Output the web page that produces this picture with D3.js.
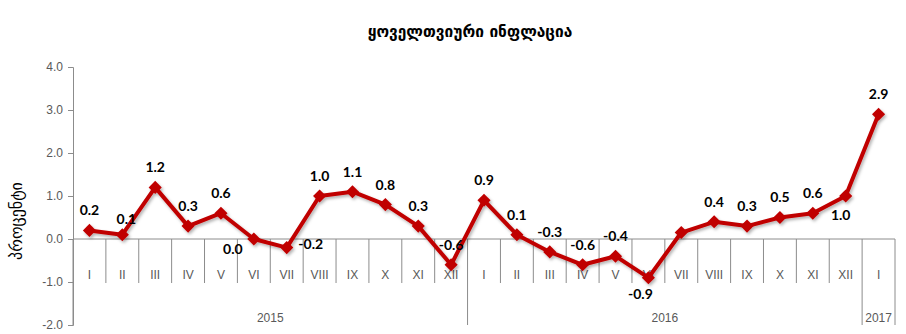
<!DOCTYPE html>
<html>
<head>
<meta charset="utf-8">
<script src="https://cdn.jsdelivr.net/npm/d3@7"></script>
<style>
  body { margin: 0; background: #fff; }
  svg { display: block; }
</style>
</head>
<body>
<div id="chart"></div>
<script>
// monthly inflation, %
var months = ["I","II","III","IV","V","VI","VII","VIII","IX","X","XI","XII",
              "I","II","III","IV","V","VI","VII","VIII","IX","X","XI","XII",
              "I"];
var values = [0.2, 0.1, 1.2, 0.3, 0.6, 0.0, -0.2, 1.0, 1.1, 0.8, 0.3, -0.6,
              0.9, 0.1, -0.3, -0.6, -0.4, -0.9, 0.15, 0.4, 0.3, 0.5, 0.6, 1.0,
              2.9];
var labels = ["0.2","0.1","1.2","0.3","0.6","0.0","-0.2","1.0","1.1","0.8","0.3","-0.6",
              "0.9","0.1","-0.3","-0.6","-0.4","-0.9","","0.4","0.3","0.5","0.6","1.0",
              "2.9"];
var years = ["2015", "2016", "2017"];
var yearCounts = [12, 12, 1];
var yTicks = [-2, -1, 0, 1, 2, 3, 4];

var title = "ყოველთვიური ინფლაცია";
var yTitle = "პროცენტი";

var width = 906;
var height = 334;
var plotLeft = 73, plotRight = 895, plotTop = 67, plotBottom = 325;
var axisGray = "#8c8c8c";
var red = "#c00000";

// where the value label goes, relative to the marker (default: above)
var labelPlace = { 1: [4, -16], 5: [-21, 10], 6: [24, -4], 17: [-8, 16], 23: [-5, 19] };

var svg = d3.select("#chart")
    .append("svg")
    .attr("width", width)
    .attr("height", height);

var x = d3.scaleBand()
    .domain(d3.range(months.length))
    .range([plotLeft, plotRight]);

var y = d3.scaleLinear()
    .domain([-2, 4])
    .range([plotBottom, plotTop]);

var y0 = y(0);

svg.append("text")
    .attr("x", 470)
    .attr("y", 37)
    .attr("text-anchor", "middle")
    .style("font-family", "DejaVu Sans")
    .style("font-size", "15.5px")
    .style("font-weight", "bold")
    .text(title);

svg.append("text")
    .attr("transform", "translate(16," + 221 + ") rotate(-90)")
    .attr("text-anchor", "middle")
    .attr("dy", "0.35em")
    .style("font-family", "DejaVu Sans")
    .style("font-size", "16px")
    .text(yTitle);

// y axis
var yAxis = svg.append("g")
    .attr("transform", "translate(" + plotLeft + ",0)")
    .call(d3.axisLeft(y).tickValues(yTicks).tickSize(5).tickPadding(5)
        .tickFormat(function(d) { return d.toFixed(1); }));
yAxis.select(".domain").attr("stroke", axisGray);
yAxis.selectAll(".tick line").attr("stroke", axisGray);
yAxis.selectAll(".tick text")
    .attr("fill", "#595959")
    .style("font-family", "Liberation Sans")
    .style("font-size", "12px");

// category axis at zero
svg.append("line")
    .attr("x1", plotLeft).attr("x2", plotRight)
    .attr("y1", y0).attr("y2", y0)
    .attr("stroke", axisGray);

var bounds = [];
var acc = 0;
yearCounts.forEach(function(c) { acc += c; bounds.push(acc); });

d3.range(1, months.length + 1).forEach(function(i) {
    var xi = i < months.length ? x(i) : plotRight;
    var isYear = bounds.indexOf(i) >= 0;
    svg.append("line")
        .attr("x1", xi).attr("x2", xi)
        .attr("y1", y0).attr("y2", isYear ? plotBottom : y0 + 44)
        .attr("stroke", axisGray);
});
svg.append("line")
    .attr("x1", plotLeft).attr("x2", plotLeft)
    .attr("y1", y0).attr("y2", plotBottom)
    .attr("stroke", axisGray);

svg.selectAll(".month")
    .data(months)
    .enter()
    .append("text")
    .attr("class", "month")
    .attr("x", function(d, i) { return x(i) + x.bandwidth() / 2; })
    .attr("y", y0 + 40)
    .attr("text-anchor", "middle")
    .attr("fill", "#595959")
    .style("font-family", "Liberation Sans")
    .style("font-size", "12px")
    .text(function(d) { return d; });

var start = 0;
years.forEach(function(yr, k) {
    var a = x(start);
    var b = start + yearCounts[k] < months.length ? x(start + yearCounts[k]) : plotRight;
    svg.append("text")
        .attr("x", (a + b) / 2)
        .attr("y", plotBottom - 3)
        .attr("text-anchor", "middle")
        .attr("fill", "#595959")
        .style("font-family", "Liberation Sans")
        .style("font-size", "12px")
        .text(yr);
    start += yearCounts[k];
});

// shadow for the line
var defs = svg.append("defs");
var f = defs.append("filter").attr("id", "shadow").attr("x", "-10%").attr("y", "-10%")
    .attr("width", "120%").attr("height", "130%");
f.append("feDropShadow").attr("dx", 1.5).attr("dy", 2).attr("stdDeviation", 1.5)
    .attr("flood-color", "#000").attr("flood-opacity", 0.3);

var line = d3.line()
    .x(function(d, i) { return x(i) + x.bandwidth() / 2; })
    .y(function(d) { return y(d); });

var g = svg.append("g").attr("filter", "url(#shadow)");

g.append("path")
    .datum(values)
    .attr("d", line)
    .attr("fill", "none")
    .attr("stroke", red)
    .attr("stroke-width", 4)
    .attr("stroke-linejoin", "round");

g.selectAll(".pt")
    .data(values)
    .enter()
    .append("path")
    .attr("class", "pt")
    .attr("d", d3.symbol().type(d3.symbolDiamond2).size(110))
    .attr("transform", function(d, i) {
        return "translate(" + (x(i) + x.bandwidth() / 2) + "," + y(d) + ")";
    })
    .attr("fill", red);

svg.selectAll(".lbl")
    .data(values)
    .enter()
    .append("text")
    .attr("class", "lbl")
    .attr("x", function(d, i) {
        var off = labelPlace[i] || [0, -20];
        return x(i) + x.bandwidth() / 2 + off[0];
    })
    .attr("y", function(d, i) {
        var off = labelPlace[i] || [0, -20];
        return y(d) + off[1];
    })
    .attr("dy", "0.35em")
    .attr("text-anchor", "middle")
    .style("font-family", "Lato")
    .style("font-weight", "bold")
    .style("font-size", "14px")
    .attr("fill", "#000")
    .text(function(d, i) { return labels[i]; });
</script>
</body>
</html>
